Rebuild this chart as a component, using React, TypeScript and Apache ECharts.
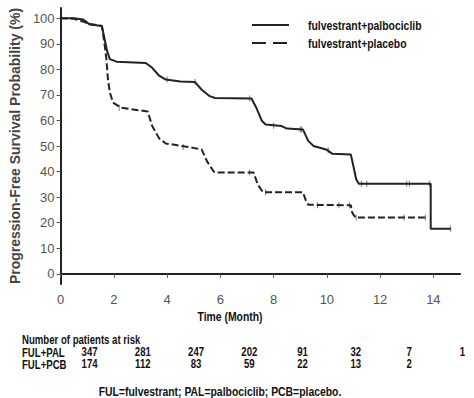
import React, { useEffect, useRef } from "react";
import * as echarts from "echarts";

const palPoints: [number, number][] = [
  [0, 100], [0.5, 100], [0.85, 99.5], [1.1, 97.5], [1.55, 97], [1.65, 92], [1.75, 87], [1.85, 84],
  [2.1, 83], [3.2, 82.5], [3.45, 80.5], [3.7, 77.5], [3.95, 76], [4.5, 75.2], [5.05, 75], [5.3, 72],
  [5.6, 69.5], [5.8, 68.8], [7.17, 68.6], [7.35, 65], [7.55, 60], [7.7, 58.4], [8.3, 57.8], [8.5, 56.8],
  [9.1, 56.5], [9.3, 52], [9.5, 50], [10.0, 48.5], [10.2, 47], [10.9, 46.7], [11.0, 42], [11.1, 37],
  [11.2, 35.2], [13.9, 35.2], [13.9, 17.6], [14.65, 17.6],
];
const pcbPoints: [number, number][] = [
  [0, 100], [0.5, 99.8], [0.9, 98.5], [1.05, 97.8], [1.55, 97], [1.65, 90], [1.72, 84], [1.78, 76],
  [1.85, 71], [1.97, 67], [2.27, 65], [3.27, 63.5], [3.45, 57.6], [3.7, 53], [3.95, 51], [4.87, 49.5],
  [5.3, 48.6], [5.5, 44], [5.75, 40], [5.8, 39.6], [7.25, 39.6], [7.4, 35], [7.6, 31.9], [9.1, 31.9],
  [9.2, 29], [9.3, 27], [10.9, 26.8], [10.95, 24], [11.07, 22], [13.75, 22],
];
const palCensor: [number, number][] = [
  [4.0, 76], [5.05, 75], [7.1, 68.6], [8.0, 57.9], [9.0, 56.5], [9.05, 56.5], [10.05, 48.3],
  [11.3, 35.2], [11.5, 35.2], [13.0, 35.2], [13.1, 35.2], [13.85, 35.2], [14.65, 17.6],
];
const pcbCensor: [number, number][] = [
  [2.2, 65], [4.6, 49.6], [7.1, 39.6], [7.7, 31.9], [9.65, 26.8], [10.45, 26.8], [10.85, 26.8],
  [11.1, 22], [12.9, 22], [13.7, 22],
];

const xTicks = [0, 2, 4, 6, 8, 10, 12, 14];
const yTicks = [0, 10, 20, 30, 40, 50, 60, 70, 80, 90, 100];

const riskMonths = [0, 2, 4, 6, 8, 10, 12, 14];
const riskPal = ["347", "281", "247", "202", "91", "32", "7", "1"];
const riskPcb = ["174", "112", "83", "59", "22", "13", "2", ""];

const seriesNames = ["fulvestrant+palbociclib", "fulvestrant+placebo"];

const SANS = "'Liberation Sans', Arial, sans-serif";
const SX = 0.8;

function narrowText(text: string, x: number, y: number, size: number, align: string = "left") {
  return {
    type: "text",
    x,
    y,
    scaleX: SX,
    scaleY: 1,
    style: {
      text,
      fill: "#111",
      font: `bold ${size}px ${SANS}`,
      textAlign: align,
      textVerticalAlign: "middle",
    },
  };
}

export default function App() {
  const ref = useRef<HTMLDivElement>(null);
  useEffect(() => {
    if (!ref.current) return;
    const chart = echarts.init(ref.current, null, { renderer: "svg" });
    const option: any = {
      animation: false,
      backgroundColor: "#fff",
      grid: { left: 57, right: 14, top: 8, bottom: 114, containLabel: false },
      xAxis: {
        type: "value",
        min: 0,
        max: 15,
        axisLine: { show: true, lineStyle: { color: "#222", width: 2 } },
        axisTick: { show: true, length: 4, lineStyle: { color: "#555" }, customValues: xTicks },
        axisLabel: {
          customValues: xTicks,
          color: "#555",
          fontSize: 13,
          fontFamily: SANS,
          margin: 9,
        },
        splitLine: { show: false },
      },
      yAxis: {
        type: "value",
        min: -4,
        max: 104,
        name: "Progression-Free Survival Probability (%)",
        nameLocation: "middle",
        nameGap: 31,
        nameTextStyle: { color: "#444", fontSize: 14, fontWeight: "bold", fontFamily: SANS },
        axisLine: { show: true, lineStyle: { color: "#222", width: 2 } },
        axisTick: { show: true, length: 4, lineStyle: { color: "#555" }, customValues: yTicks },
        axisLabel: {
          customValues: yTicks,
          color: "#555",
          fontSize: 13,
          fontFamily: SANS,
          margin: 6,
        },
        splitLine: { show: false },
      },
      series: [
        {
          name: seriesNames[0],
          type: "line",
          data: palPoints,
          symbol: "none",
          lineStyle: { color: "#222", width: 2 },
        },
        {
          name: seriesNames[1],
          type: "line",
          data: pcbPoints,
          symbol: "none",
          lineStyle: { color: "#222", width: 2, type: [7, 3] },
        },
        {
          type: "scatter",
          data: palCensor,
          symbol: "rect",
          symbolSize: [1, 6],
          itemStyle: { color: "#555" },
        },
        {
          type: "scatter",
          data: pcbCensor,
          symbol: "rect",
          symbolSize: [1, 6],
          itemStyle: { color: "#555" },
        },
      ],
    };
    chart.setOption(option);

    const graphics: any[] = [
      { type: "line", shape: { x1: 252, y1: 25, x2: 289, y2: 25 }, style: { stroke: "#222", lineWidth: 2 } },
      { type: "line", shape: { x1: 252, y1: 43, x2: 289, y2: 43 }, style: { stroke: "#222", lineWidth: 2, lineDash: [14, 7] } },
      narrowText(seriesNames[0], 308, 25, 13),
      narrowText(seriesNames[1], 308, 43, 13),
      narrowText("Time (Month)", 230, 316, 13, "center"),
      narrowText("Number of patients at risk", 22, 340, 12),
      narrowText("FUL+PAL", 22, 353, 12),
      narrowText("FUL+PCB", 22, 365, 12),
      narrowText("FUL=fulvestrant; PAL=palbociclib; PCB=placebo.", 220, 391, 13, "center"),
    ];
    riskMonths.forEach((m, i) => {
      const px = (chart.convertToPixel({ xAxisIndex: 0 }, m) as number) + 29;
      graphics.push(narrowText(riskPal[i], px, 352, 12, "center"));
      if (riskPcb[i]) {
        graphics.push(narrowText(riskPcb[i], px, 364, 12, "center"));
      }
    });
    chart.setOption({ graphic: graphics });
    return () => chart.dispose();
  }, []);
  return <div ref={ref} style={{ position: "absolute", left: 0, top: 0, width: 474, height: 398 }} />;
}
